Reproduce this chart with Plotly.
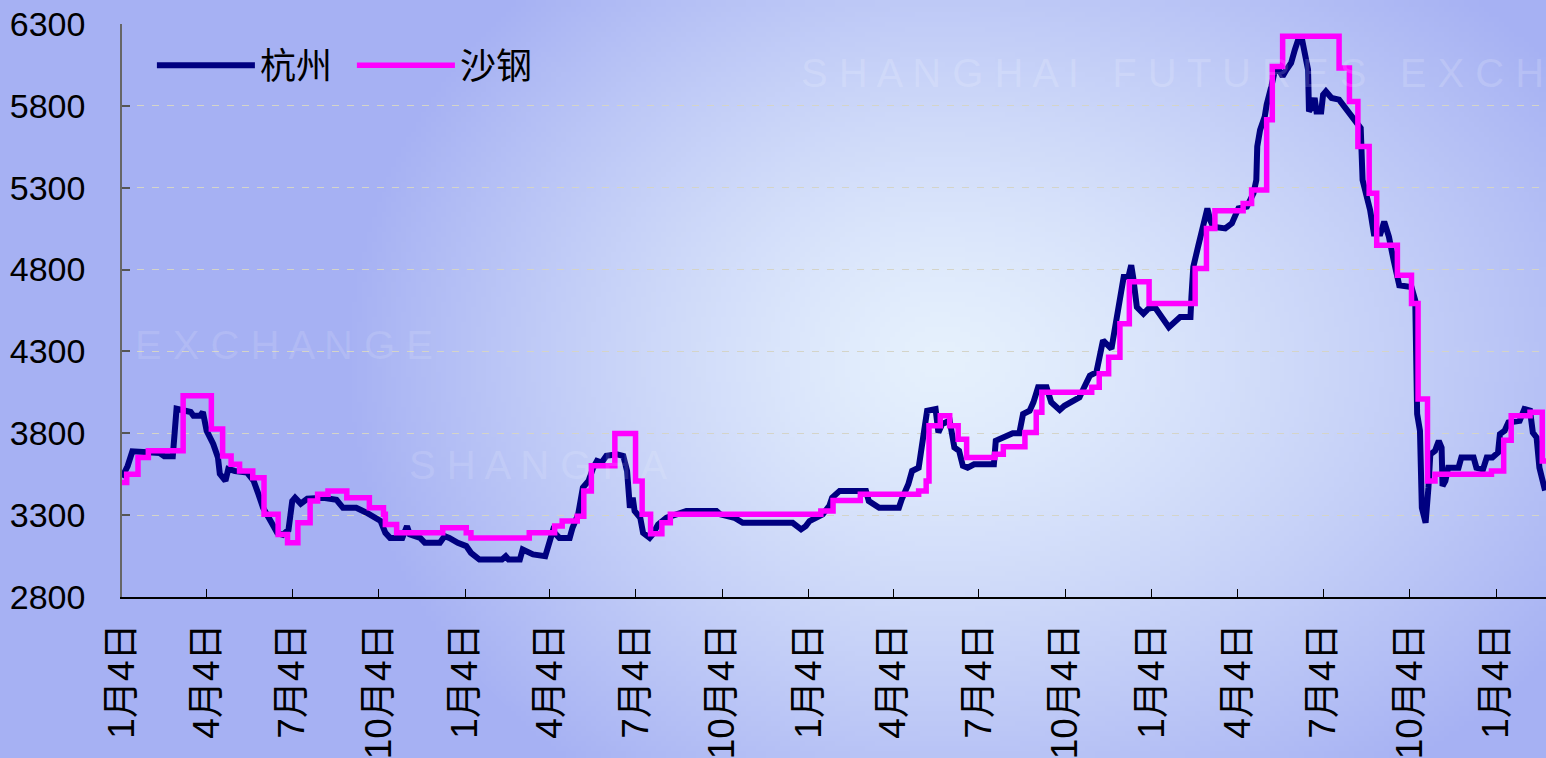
import base64, struct, zlib
import numpy as np
import plotly.graph_objects as go

# ---------------- data ----------------
hz_dates = ["2005-01-04","2005-01-10","2005-01-15","2005-02-13","2005-02-18","2005-02-27","2005-03-03","2005-03-18",
"2005-03-21","2005-03-28","2005-03-31","2005-04-04","2005-04-11","2005-04-16","2005-04-18","2005-04-24","2005-04-27",
"2005-05-04","2005-05-17","2005-05-24","2005-05-29","2005-06-03","2005-06-11","2005-06-18","2005-06-24","2005-06-30",
"2005-07-04","2005-07-07","2005-07-13","2005-07-20","2005-08-06","2005-08-20","2005-08-27","2005-09-10","2005-09-21",
"2005-10-02","2005-10-06","2005-10-11","2005-10-16","2005-10-29","2005-11-03","2005-11-06","2005-11-17","2005-11-22",
"2005-12-08","2005-12-13","2005-12-18","2005-12-27","2006-01-05","2006-01-10","2006-01-19","2006-02-12","2006-02-16",
"2006-02-19","2006-03-03","2006-03-06","2006-03-17","2006-03-30","2006-04-04","2006-04-07","2006-04-14","2006-04-25",
"2006-04-28","2006-05-04","2006-05-09","2006-05-15","2006-05-20","2006-05-24","2006-05-29","2006-06-03","2006-06-14",
"2006-06-21","2006-06-25","2006-06-28","2006-07-01","2006-07-03","2006-07-09","2006-07-12","2006-07-19","2006-07-22",
"2006-07-28","2006-08-06","2006-08-27","2006-09-28","2006-10-02","2006-10-17","2006-10-26","2006-11-09","2006-12-18",
"2006-12-27","2007-01-01","2007-01-05","2007-01-19","2007-01-26","2007-01-29","2007-02-06","2007-03-06","2007-03-09",
"2007-03-20","2007-04-10","2007-04-13","2007-04-20","2007-04-24","2007-05-01","2007-05-06","2007-05-10","2007-05-19",
"2007-05-22","2007-05-26","2007-06-03","2007-06-08","2007-06-13","2007-06-17","2007-06-22","2007-06-29","2007-07-20",
"2007-07-22","2007-08-04","2007-08-09","2007-08-16","2007-08-20","2007-08-27","2007-08-31","2007-09-05","2007-09-14",
"2007-09-19","2007-09-28","2007-10-03","2007-10-10","2007-10-19","2007-10-24","2007-10-30","2007-11-06","2007-11-09",
"2007-11-13","2007-11-22","2007-11-27","2007-12-01","2007-12-05","2007-12-10","2007-12-13","2007-12-15","2007-12-19",
"2007-12-26","2007-12-31","2008-01-07","2008-01-15","2008-01-22","2008-02-03","2008-02-14","2008-02-15","2008-02-17",
"2008-02-22","2008-02-28","2008-03-03","2008-03-06","2008-03-09","2008-03-22","2008-03-29","2008-04-05","2008-04-14",
"2008-04-21","2008-04-24","2008-04-25","2008-04-28","2008-05-03","2008-05-05","2008-05-10","2008-05-14","2008-05-19",
"2008-05-22","2008-05-26","2008-05-31","2008-06-04","2008-06-07","2008-06-12","2008-06-14","2008-06-18","2008-06-19",
"2008-06-23","2008-06-25","2008-06-27","2008-07-02","2008-07-04","2008-07-07","2008-07-13","2008-07-21","2008-07-25",
"2008-08-01","2008-08-13","2008-08-15","2008-08-20","2008-08-23","2008-08-27","2008-09-03","2008-09-07","2008-09-12",
"2008-09-17","2008-09-20","2008-09-23","2008-10-06","2008-10-10","2008-10-12","2008-10-15","2008-10-17","2008-10-21",
"2008-10-24","2008-10-26","2008-10-31","2008-11-04","2008-11-07","2008-11-08","2008-11-11","2008-11-14","2008-11-25",
"2008-11-28","2008-12-11","2008-12-14","2008-12-21","2008-12-25","2008-12-31","2009-01-06","2009-01-08","2009-01-13",
"2009-01-17","2009-01-29","2009-02-03","2009-02-09","2009-02-12","2009-02-16","2009-02-19","2009-02-25"]
hz_vals = [3530,3600,3690,3680,3660,3660,3950,3930,3907,3907,3930,3815,3735,3652,3552,3509,3582,
3570,3560,3509,3429,3345,3264,3192,3180,3210,3386,3406,3370,3400,3406,3394,3345,3345,3315,
3284,3264,3192,3161,3161,3233,3182,3161,3131,3131,3172,3161,3131,3111,3070,3029,3029,3049,
3029,3029,3090,3060,3049,3141,3203,3161,3161,3223,3305,3468,3509,3590,3631,3621,3662,3672,
3662,3570,3345,3406,3325,3284,3192,3161,3182,3243,3284,3325,3325,3305,3284,3253,3253,3253,
3213,3233,3264,3305,3356,3406,3448,3448,3386,3345,3345,3397,3489,3570,3590,3774,3938,3948,
3805,3856,3877,3713,3693,3601,3590,3611,3611,3754,3785,3800,3800,3918,3938,3989,4081,4081,
3989,3942,3968,3989,4020,4081,4152,4173,4244,4367,4316,4489,4612,4755,4755,4826,4755,4571,
4530,4560,4571,4510,4448,4510,4510,4632,4816,4938,5061,5174,5102,5061,5051,5082,5174,5184,
5266,5347,5551,5653,5735,5807,5919,6021,6010,5980,6021,6062,6143,6194,6194,6143,6021,5766,
5800,5848,5766,5766,5868,5888,5848,5838,5807,5766,5664,5347,5245,5163,5020,5020,5092,5000,
4857,4765,4704,4693,4612,3918,3815,3345,3253,3468,3672,3693,3754,3713,3478,3509,3590,3590,
3652,3652,3590,3580,3652,3652,3682,3795,3815,3866,3877,3948,3938,3805,3774,3590,3450]

sg_dates = ["2005-01-04","2005-01-09","2005-01-21","2005-02-01","2005-03-10","2005-04-09","2005-04-21","2005-04-30",
"2005-05-09","2005-05-23","2005-06-04","2005-06-19","2005-06-29","2005-07-10","2005-07-23","2005-07-31","2005-08-11",
"2005-08-31","2005-09-24","2005-10-09","2005-10-11","2005-10-23","2005-12-11","2006-01-05","2006-01-10","2006-03-13",
"2006-04-09","2006-04-17","2006-05-03","2006-05-10","2006-05-18","2006-06-12","2006-07-04","2006-07-11","2006-07-20",
"2006-08-01","2006-08-10","2007-01-17","2007-01-30","2007-02-28","2007-05-01","2007-05-09","2007-05-12","2007-05-24",
"2007-06-03","2007-06-12","2007-06-21","2007-07-21","2007-07-30","2007-08-22","2007-09-03","2007-09-09","2007-11-01",
"2007-11-09","2007-11-19","2007-12-01","2007-12-11","2008-01-01","2008-02-19","2008-03-02","2008-03-11","2008-04-10",
"2008-04-19","2008-05-05","2008-05-11","2008-05-22","2008-07-21","2008-08-01","2008-08-10","2008-08-22","2008-08-30",
"2008-09-21","2008-10-06","2008-10-13","2008-10-23","2008-10-31","2008-12-30","2009-01-12","2009-01-20","2009-02-09",
"2009-02-22","2009-02-26"]
sg_vals = [3499,3550,3652,3693,4030,3826,3662,3611,3570,3529,3305,3182,3131,3253,3386,3427,3448,
3406,3345,3305,3243,3192,3223,3192,3161,3192,3233,3264,3294,3448,3601,3799,3509,3305,3186,
3253,3305,3325,3390,3427,3448,3509,3846,3907,3846,3764,3652,3672,3717,3805,3928,4050,4081,
4163,4265,4469,4725,4592,4806,5051,5159,5204,5286,5715,6041,6225,6031,5827,5551,5266,4949,
4765,4592,4009,3509,3550,3570,3758,3907,3928,3631,3631]

tick_dates = ["2005-01-04","2005-04-04","2005-07-04","2005-10-04","2006-01-04","2006-04-04","2006-07-04","2006-10-04",
"2007-01-04","2007-04-04","2007-07-04","2007-10-04","2008-01-04","2008-04-04","2008-07-04","2008-10-04","2009-01-04"]
tick_text = ["1月4日","4月4日","7月4日","10月4日"] * 4 + ["1月4日"]
y_ticks = [2800, 3300, 3800, 4300, 4800, 5300, 5800, 6300]
series_names = ["杭州", "沙钢"]

# ---------------- background gradient ----------------
W, H = 1546, 758
gw, gh = 310, 152
xs = (np.arange(gw) + 0.5) * W / gw
ys = (np.arange(gh) + 0.5) * H / gh
X, Y = np.meshgrid(xs, ys)
cx, cy = 940, 360
rx = np.where(X < cx, 600, 760)
d = np.sqrt(((X - cx) / rx) ** 2 + ((Y - cy) / 520) ** 2)
t = np.clip(d, 0, 1) ** 1.3
inner = np.array([230, 241, 253], float)
outer = np.array([166, 177, 243], float)
img = inner[None, None, :] * (1 - t[..., None]) + outer[None, None, :] * t[..., None]
img = np.clip(img, 0, 255).astype(np.uint8)

def png_uri(a):
    h, w, _ = a.shape
    raw = b"".join(b"\x00" + a[r].tobytes() for r in range(h))
    def chunk(tag, data):
        c = struct.pack(">I", len(data)) + tag + data
        return c + struct.pack(">I", zlib.crc32(tag + data) & 0xffffffff)
    png = b"\x89PNG\r\n\x1a\n" + chunk(b"IHDR", struct.pack(">IIBBBBB", w, h, 8, 2, 0, 0, 0))
    png += chunk(b"IDAT", zlib.compress(raw, 9)) + chunk(b"IEND", b"")
    return "data:image/png;base64," + base64.b64encode(png).decode()

ML, MR, MT, MB = 122, 0, 24, 161
pw, ph = W - ML - MR, H - MT - MB

font_main = "Liberation Sans, Arial, Noto Sans CJK SC, sans-serif"

fig = go.Figure()
fig.add_trace(go.Scatter(x=hz_dates, y=hz_vals, name=series_names[0], mode="lines",
                         line=dict(color="#000080", width=6)))
fig.add_trace(go.Scatter(x=sg_dates, y=sg_vals, name=series_names[1], mode="lines",
                         line=dict(color="#FF00FF", width=5.5, shape="hv")))

fig.update_layout(
    width=W, height=H,
    margin=dict(l=ML, r=MR, t=MT, b=MB, autoexpand=False),
    paper_bgcolor="#b4bef4", plot_bgcolor="rgba(0,0,0,0)",
    font=dict(family=font_main, size=34, color="#000000"),
    images=[dict(source=png_uri(img), xref="paper", yref="paper",
                 x=-ML / pw, y=1 + MT / ph, sizex=W / pw, sizey=H / ph,
                 sizing="stretch", layer="below", xanchor="left", yanchor="top")],
    showlegend=True,
    legend=dict(orientation="h", x=0.021, y=0.98, xanchor="left", yanchor="top",
                bgcolor="rgba(0,0,0,0)", font=dict(size=36, family=font_main),
                entrywidth=87, entrywidthmode="pixels", itemwidth=98),
    xaxis=dict(type="date", range=["2005-01-04", "2009-02-26"],
               tickmode="array", tickvals=tick_dates, ticktext=tick_text,
               tickangle=-90, ticks="inside", ticklen=8, tickcolor="#000000", tickwidth=1,
               showline=True, linecolor="#000000", linewidth=1.5,
               showgrid=False, zeroline=False, automargin=False,
               ticklabelstandoff=10, tickfont=dict(size=37)),
    yaxis=dict(range=[2800, 6300], tickmode="array", tickvals=y_ticks,
               ticks="inside", ticklen=8, tickcolor="#555555", tickwidth=1.5,
               showline=True, linecolor="#666666", linewidth=1.5,
               showgrid=True, gridcolor="#d4d4c8", griddash="7px,8px", gridwidth=1,
               zeroline=False, automargin=False, ticklabelstandoff=28,
               tickfont=dict(size=34)),
)

# faint background watermark text
fig.add_annotation(text="S H A N G H A I   F U T U R E S   E X C H", xref="paper", yref="paper",
                   x=1.0, y=0.915, xanchor="right", yanchor="middle", showarrow=False,
                   font=dict(size=40, color="rgba(255,255,255,0.16)", family=font_main))
fig.add_annotation(text="S H A N G H A", xref="paper", yref="paper",
                   x=0.2, y=0.23, xanchor="left", yanchor="middle", showarrow=False,
                   font=dict(size=40, color="rgba(255,255,255,0.14)", family=font_main))
fig.add_annotation(text="E X C H A N G E", xref="paper", yref="paper",
                   x=0.22, y=0.44, xanchor="right", yanchor="middle", showarrow=False,
                   font=dict(size=40, color="rgba(255,255,255,0.12)", family=font_main))

fig.write_html("out.html", config={"displayModeBar": False},
               post_script="document.body.style.margin='0';document.body.style.overflow='hidden';")
